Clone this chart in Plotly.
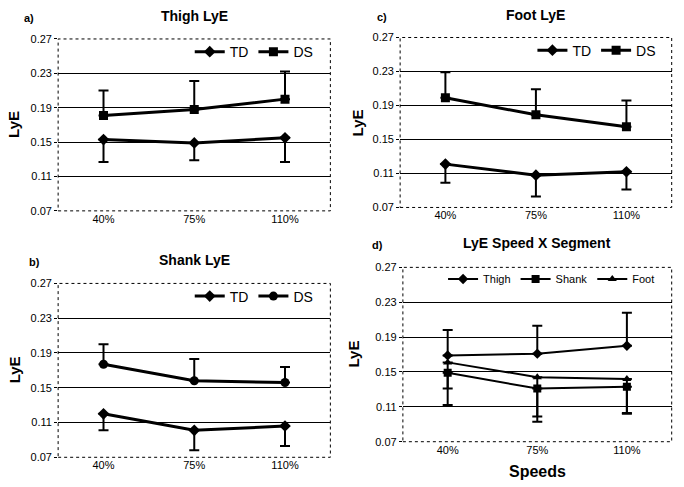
import plotly.graph_objects as go

speeds = ["40%", "75%", "110%"]

# a) Thigh
thigh_td = [0.153, 0.149, 0.155]
thigh_td_err = [0.026, 0.020, 0.028]
thigh_ds = [0.181, 0.188, 0.200]
thigh_ds_err = [0.029, 0.033, 0.032]

# c) Foot
foot_td = [0.121, 0.108, 0.112]
foot_td_err = [0.022, 0.025, 0.021]
foot_ds = [0.199, 0.179, 0.165]
foot_ds_err = [0.030, 0.030, 0.031]

# b) Shank
shank_td = [0.120, 0.101, 0.106]
shank_td_err = [0.019, 0.023, 0.023]
shank_ds = [0.177, 0.158, 0.156]
shank_ds_err = [0.023, 0.025, 0.018]

# d) Speed x segment
seg_thigh = [0.169, 0.171, 0.180]
seg_thigh_err = [0.029, 0.032, 0.038]
seg_shank = [0.149, 0.131, 0.133]
seg_shank_err = [0.037, 0.038, 0.031]
seg_foot = [0.161, 0.144, 0.142]
seg_foot_err = [0.030, 0.045, 0.039]

FONT = "Liberation Sans, Arial, sans-serif"

# 패널 위치 (paper 좌표), label_x / ytitle_x 는 픽셀 기준
panels = {
    "a": dict(x=[0.085, 0.483], y=[0.567, 0.920], title="Thigh LyE", label="a)",
              label_x=22, ytitle_x=14, title_gap=0.026, leg_x=0.466),
    "c": dict(x=[0.585, 0.982], y=[0.574, 0.923], title="Foot LyE", label="c)",
              label_x=375, ytitle_x=357, title_gap=0.026, leg_x=0.967),
    "b": dict(x=[0.085, 0.483], y=[0.061, 0.418], title="Shank LyE", label="b)",
              label_x=27, ytitle_x=14, title_gap=0.027, leg_x=0.466),
    "d": dict(x=[0.589, 0.982], y=[0.093, 0.451], title="LyE Speed X Segment", label="d)",
              label_x=370, ytitle_x=354, title_gap=0.029, leg_x=0.965),
}
axis_ids = {"a": ("x", "y", "legend"), "c": ("x2", "y2", "legend2"),
            "b": ("x3", "y3", "legend3"), "d": ("x4", "y4", "legend4")}

W, H = 684, 487

fig = go.Figure()


def add_series(key, name, vals, errs, symbol, up, width=3, size=9, dash="solid"):
    xa, ya, lg = axis_ids[key]
    fig.add_trace(go.Scatter(
        x=speeds, y=vals, name=name, mode="lines+markers",
        xaxis=xa, yaxis=ya, legend=lg,
        line=dict(color="black", width=width, dash=dash),
        marker=dict(symbol=symbol, size=size, color="black"),
        error_y=dict(type="data", symmetric=False,
                     array=errs if up else [0, 0, 0],
                     arrayminus=[0, 0, 0] if up else errs,
                     color="black", thickness=2, width=5),
    ))


add_series("a", "TD", thigh_td, thigh_td_err, "diamond", False)
add_series("a", "DS", thigh_ds, thigh_ds_err, "square", True)
add_series("c", "TD", foot_td, foot_td_err, "diamond", False)
add_series("c", "DS", foot_ds, foot_ds_err, "square", True)
add_series("b", "TD", shank_td, shank_td_err, "diamond", False)
add_series("b", "DS", shank_ds, shank_ds_err, "circle", True)
add_series("d", "Thigh", seg_thigh, seg_thigh_err, "diamond", True, width=2, size=8)
add_series("d", "Shank", seg_shank, seg_shank_err, "square", False, width=2, size=8)
add_series("d", "Foot", seg_foot, seg_foot_err, "triangle-up", False, width=2, size=8)

layout = dict(
    width=W, height=H,
    margin=dict(l=0, r=0, t=0, b=0),
    paper_bgcolor="white", plot_bgcolor="white",
    font=dict(family=FONT, color="black", size=11),
    showlegend=True,
)

annotations = []
shapes = []
for i, key in enumerate(["a", "c", "b", "d"]):
    p = panels[key]
    sfx = "" if i == 0 else str(i + 1)
    layout["xaxis" + sfx] = dict(
        domain=p["x"], anchor="y" + sfx, range=[-0.5, 2.5], automargin=False,
        showgrid=False, zeroline=False, showline=False,
        tickfont=dict(size=11, family=FONT), ticks="",
    )
    layout["yaxis" + sfx] = dict(
        domain=p["y"], anchor="x" + sfx, range=[0.07, 0.27], dtick=0.04,
        tick0=0.07, tickformat=".2f", showgrid=True, gridcolor="black",
        gridwidth=1, zeroline=False, showline=False, ticks="outside",
        ticklen=3, tickcolor="black", tickfont=dict(size=11, family=FONT),
        automargin=False,
    )
    # 점선 테두리
    shapes.append(dict(type="rect", xref="x%s domain" % sfx, yref="y%s domain" % sfx,
                       x0=0, x1=1, y0=0, y1=1,
                       line=dict(color="black", width=1, dash="dot")))
    xmid = (p["x"][0] + p["x"][1]) / 2
    ytop = p["y"][1] + p["title_gap"]
    annotations.append(dict(text="<b>%s</b>" % p["title"], x=xmid, y=ytop,
                            xref="paper", yref="paper", showarrow=False,
                            font=dict(size=14, family=FONT),
                            xanchor="center", yanchor="bottom"))
    annotations.append(dict(text="<b>%s</b>" % p["label"], x=p["label_x"] / W,
                            y=ytop, xref="paper", yref="paper",
                            showarrow=False, font=dict(size=11, family=FONT),
                            xanchor="left", yanchor="bottom"))
    annotations.append(dict(text="<b>LyE</b>", x=p["ytitle_x"] / W,
                            y=(p["y"][0] + p["y"][1]) / 2, xref="paper", yref="paper",
                            showarrow=False, textangle=-90,
                            xanchor="center", yanchor="middle",
                            font=dict(size=15, family=FONT)))
    leg = "legend" if i == 0 else "legend" + str(i + 1)
    layout[leg] = dict(
        orientation="h", x=p["leg_x"], y=p["y"][1] + 0.006,
        xanchor="right", yanchor="top", bgcolor="rgba(0,0,0,0)",
        font=dict(size=14 if key != "d" else 11, family=FONT),
        itemwidth=30, tracegroupgap=0,
    )

annotations.append(dict(text="<b>Speeds</b>", x=(panels["d"]["x"][0] + panels["d"]["x"][1]) / 2,
                        y=0.01, xref="paper", yref="paper", showarrow=False,
                        xanchor="center", yanchor="bottom",
                        font=dict(size=16, family=FONT)))

layout["annotations"] = annotations
layout["shapes"] = shapes
fig.update_layout(**layout)

# 페이지 기본 여백 제거, 모드바 숨김
fig.write_html("out.html", config={"displayModeBar": False},
               post_script="document.body.style.margin='0';")
